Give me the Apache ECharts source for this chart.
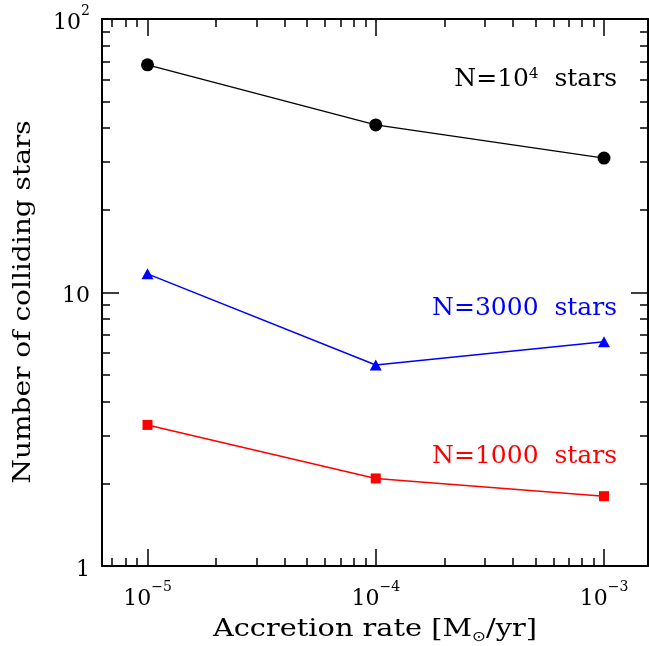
<!DOCTYPE html>
<html>
<head>
<meta charset="utf-8">
<script src="https://cdn.jsdelivr.net/npm/echarts@6/dist/echarts.min.js"></script>
<style>
  html, body { margin: 0; padding: 0; background: #fff; }
  #chart { width: 649px; height: 646px; }
</style>
</head>
<body>
<div id="chart"></div>
<script>
// Accretion rates (M_sun/yr) at which the runs were made
const rates = [1e-5, 1e-4, 1e-3];

// Number of colliding stars for each cluster size
const n10000 = [68, 41, 31];
const n3000 = [11.7, 5.43, 6.6];
const n1000 = [3.28, 2.09, 1.80];

// Series labels
const seriesNames = ['N=10{s|4}  stars', 'N=3000  stars', 'N=1000  stars'];

// Axis titles
const xTitle = 'Accretion rate [M{sub|\u2299}/yr]';
const yTitle = 'Number of colliding stars';

// Axis tick positions
const xMajor = [1e-5, 1e-4, 1e-3];
const yMajor = [1, 10, 100];
const mult = [2, 3, 4, 5, 6, 7, 8, 9];
const xMinor = [];
[-6, -5, -4, -3].forEach(function (e) {
  mult.forEach(function (m) { xMinor.push(m * Math.pow(10, e)); });
});
const yMinor = [];
[0, 1].forEach(function (e) {
  mult.forEach(function (m) { yMinor.push(m * Math.pow(10, e)); });
});

const xMin = Math.pow(10, -5.1993);
const xMax = Math.pow(10, -2.8072);
const yMin = 1, yMax = 100;

const FONT = 'DejaVu Serif';

function pairs(ys) { return rates.map(function (x, i) { return [x, ys[i]]; }); }

function expLabel(v) {
  const e = Math.round(Math.log10(v));
  if (e === 0) return '{b|1}';
  if (e === 1) return '{b|10}';
  return '{b|10}{s|' + (e < 0 ? '\u2212' + (-e) : e) + '}';
}

const richTick = {
  b: { fontFamily: FONT, fontSize: 22, lineHeight: 30, verticalAlign: 'bottom', color: '#000' },
  s: { fontFamily: FONT, fontSize: 14, verticalAlign: 'top', color: '#000' }
};

function majorAxis(pos, isX, showLabel) {
  return {
    type: 'log', logBase: 10, position: pos,
    min: isX ? xMin : yMin, max: isX ? xMax : yMax,
    gridIndex: 0,
    axisLine: { show: true, lineStyle: { color: '#000', width: 2 } },
    axisTick: { show: true, inside: true, length: 17, customValues: isX ? xMajor : yMajor,
      lineStyle: { color: '#000', width: 1.5 } },
    axisLabel: { show: showLabel, customValues: isX ? xMajor : yMajor, formatter: expLabel, rich: richTick,
      margin: isX ? 14 : 12 },
    splitLine: { show: false },
    minorTick: { show: false }
  };
}

function minorAxis(pos, isX) {
  return {
    type: 'log', logBase: 10, position: pos,
    min: isX ? xMin : yMin, max: isX ? xMax : yMax,
    gridIndex: 1,
    axisLine: { show: false },
    axisTick: { show: true, inside: true, length: 8, customValues: isX ? xMinor : yMinor,
      lineStyle: { color: '#000', width: 1.5 } },
    axisLabel: { show: false },
    splitLine: { show: false }
  };
}

const gridBox = { left: 102, right: 1, top: 19, bottom: 80, containLabel: false };

const chart = echarts.init(document.getElementById('chart'), null, { renderer: 'canvas' });

chart.setOption({
  animation: false,
  backgroundColor: '#fff',
  grid: [Object.assign({}, gridBox), Object.assign({}, gridBox)],
  xAxis: [majorAxis('bottom', true, true), majorAxis('top', true, false), minorAxis('bottom', true), minorAxis('top', true)],
  yAxis: [majorAxis('left', false, true), majorAxis('right', false, false), minorAxis('left', false), minorAxis('right', false)],
  series: [
    {
      type: 'line', xAxisIndex: 0, yAxisIndex: 0, data: pairs(n10000),
      symbol: 'circle', symbolSize: 13,
      lineStyle: { color: '#000', width: 1.3 }, itemStyle: { color: '#000' }
    },
    {
      type: 'line', xAxisIndex: 0, yAxisIndex: 0, data: pairs(n3000),
      symbol: 'triangle', symbolSize: [12, 11],
      lineStyle: { color: '#0000ff', width: 1.5 }, itemStyle: { color: '#0000ff' }
    },
    {
      type: 'line', xAxisIndex: 0, yAxisIndex: 0, data: pairs(n1000),
      symbol: 'rect', symbolSize: 10,
      lineStyle: { color: '#ff0000', width: 1.5 }, itemStyle: { color: '#ff0000' }
    }
  ],
  graphic: [
    // axis titles, set in a wide serif face
    { type: 'text', x: 375, y: 630, scaleX: 1.2,
      style: { text: xTitle, fill: '#000', font: '24px "DejaVu Serif"', align: 'center', verticalAlign: 'middle',
        rich: { sub: { fontFamily: 'DejaVu Sans', fontSize: 14, padding: [14, 0, 0, 0], fill: '#000' } } } },
    { type: 'text', x: 23, y: 302, rotation: Math.PI / 2, scaleX: 1.12,
      style: { text: yTitle, fill: '#000', font: '25px "DejaVu Serif"', align: 'center', verticalAlign: 'middle' } },
    // series labels
    { type: 'text', right: 32, top: 67,
      style: { text: seriesNames[0], fill: '#000', font: '25px "DejaVu Serif"',
        rich: { s: { fontFamily: FONT, fontSize: 15, verticalAlign: 'top', fill: '#000' } } } },
    { type: 'text', right: 32, top: 296,
      style: { text: seriesNames[1], fill: '#0000ff', font: '25px "DejaVu Serif"' } },
    { type: 'text', right: 32, top: 444,
      style: { text: seriesNames[2], fill: '#ff0000', font: '25px "DejaVu Serif"' } }
  ]
});
</script>
</body>
</html>
